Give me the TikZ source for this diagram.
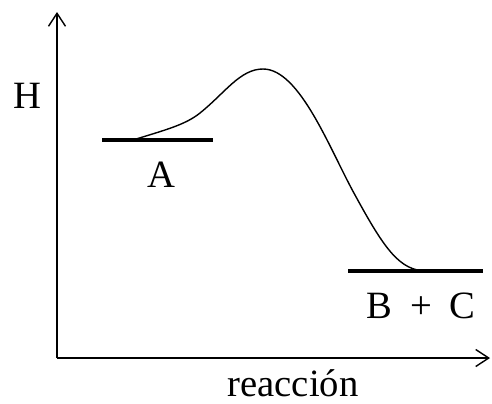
\documentclass[tikz,border=0pt]{standalone}
\usepackage{fontspec}
\setmainfont{Liberation Serif}
\usetikzlibrary{arrows.meta}

\begin{document}
\begin{tikzpicture}[x=0.02cm, y=-0.02cm, >={Straight Barb[length=2.6mm,width=3.4mm]}, line width=0.8pt, font=\fontsize{22}{26}\selectfont]
	\useasboundingbox (0,0) rectangle (492,403);

	\coordinate (O) at (57,358);
	\coordinate (ytop) at (57,12);
	\coordinate (xend) at (490,358);
	\draw[->] (O) -- (ytop);
	\draw[->] (O) -- (xend);

	\node[anchor=base] (H) at (27,108) {H};
	\node[anchor=base, inner sep=1pt] (reac) at (293,396) {reacción};

	\draw[line width=2.8pt] (102,140) coordinate (A1) -- (213,140) coordinate (A2);
	\draw[line width=2.8pt] (348,271) coordinate (BC1) -- (483,271) coordinate (BC2);
	\node[anchor=base] (A) at (161,187) {A};
	\node[anchor=base] (BC) at (421,318) {B\hspace{0.45em}+\hspace{0.45em}C};

	\coordinate (Astart) at (133,140);
	\coordinate (top) at (263,69);
	\coordinate (BCend) at (427,271);
	\draw (Astart) .. controls (165,130) and (185,125) .. (200,113)
		.. controls (225,93) and (240,69) .. (top)
		.. controls (300,69) and (330,150) .. (355,195)
		.. controls (385,250) and (400,271) .. (BCend);

\end{tikzpicture}
\end{document}
